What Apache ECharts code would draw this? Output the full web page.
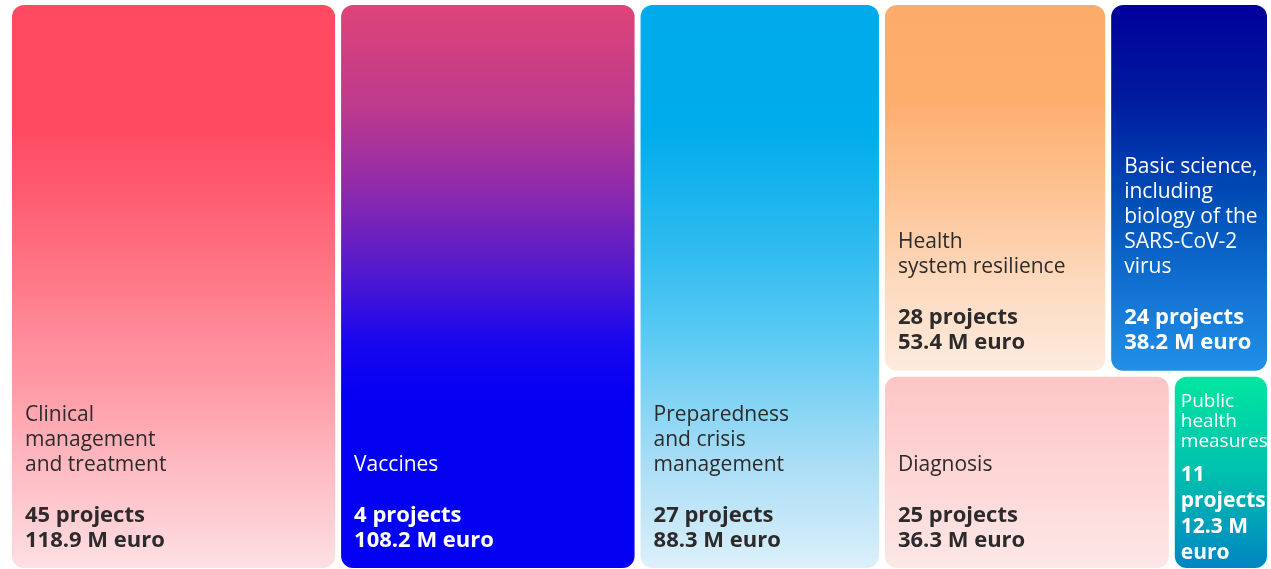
<!DOCTYPE html>
<html>
<head>
<meta charset="utf-8">
<script src="https://cdn.jsdelivr.net/npm/echarts@6/dist/echarts.min.js"></script>
<style>
  html, body { margin: 0; padding: 0; background: #fff; }
  #chart { width: 1271px; height: 569px; }
</style>
</head>
<body>
<div id="chart"></div>
<script>
// research areas, funding (M euro) and number of projects
const categories = [
  'Clinical\nmanagement\nand treatment',
  'Vaccines',
  'Preparedness\nand crisis\nmanagement',
  'Health\nsystem resilience',
  'Basic science,\nincluding\nbiology of the\nSARS-CoV-2\nvirus',
  'Diagnosis',
  'Public\nhealth\nmeasures'
];
const funding = [118.9, 108.2, 88.3, 53.4, 38.2, 36.3, 12.3];
const projects = [45, 4, 27, 28, 24, 25, 11];

// top -> bottom gradients of each tile
const gradients = [
  [[0, '#ff4a62'], [0.22, '#ff4a62'], [0.36, '#ff6074'], [0.68, '#ff9ca6'], [1, '#fde0e4']],
  [[0, '#de4478'], [0.18, '#bd3a8c'], [0.33, '#8e2aad'], [0.48, '#5018cf'], [0.6, '#1806ef'], [0.7, '#0400f2'], [1, '#0400f2']],
  [[0, '#00aaeb'], [0.22, '#00acec'], [0.45, '#33bcf0'], [0.6, '#5ecbf4'], [0.8, '#a5dcf5'], [1, '#dcf0fa']],
  [[0, '#fdab6a'], [0.25, '#fdad6c'], [0.5, '#fdc291'], [0.75, '#fdd9bd'], [1, '#fdebde']],
  [[0, '#00009a'], [0.25, '#001a9e'], [0.55, '#0050b8'], [0.8, '#1475d5'], [1, '#2090e6']],
  [[0, '#fec5c5'], [1, '#fde7e7']],
  [[0, '#00e6a0'], [0.5, '#00c0ae'], [1, '#0085c2']]
];
const lightText = [false, true, false, false, true, false, true];

const BORDER = 3;

function grad(stops) {
  return {
    type: 'linear', x: 0, y: 0, x2: 0, y2: 1,
    colorStops: stops.map(s => ({ offset: s[0], color: s[1] }))
  };
}

// text block height, used to push the label down to the bottom of its tile
function textHeight(i) {
  const nameLines = categories[i].split('\n').length;
  if (i === 6) return nameLines * 20 + 10 + 4 * 26;
  return (nameLines + 3) * 25;
}

function leaf(i, tileH) {
  const narrow = i === 6; // smallest tile, text wraps
  const col = lightText[i] ? '#ffffff' : '#2d2a2b';
  const nums = narrow
    ? projects[i] + '\nprojects\n' + funding[i] + ' M\neuro'
    : projects[i] + ' projects\n' + funding[i] + ' M euro';
  const padB = narrow ? 1 : 14;
  const padL = narrow ? 6 : 13;
  let padT = 0;
  if (tileH) padT = Math.max(0, Math.floor(tileH - 2 * BORDER - textHeight(i) - padB - 1));
  return {
    name: categories[i],
    value: funding[i],
    itemStyle: { color: grad(gradients[i]), borderWidth: BORDER, borderColor: '#fff', borderRadius: 12 },
    label: {
      color: col,
      lineHeight: narrow ? 10 : 25,
      padding: [padT, 0, padB, padL],
      formatter: '{nm|' + categories[i] + '}\n\n{num|' + nums + '}',
      rich: {
        nm: { color: col, fontFamily: 'Open Sans', fontSize: narrow ? 19 : 21, lineHeight: narrow ? 20 : 25 },
        num: { color: col, fontFamily: 'Open Sans', fontWeight: 'bold', fontSize: narrow ? 21 : 22, lineHeight: narrow ? 26 : 25 }
      }
    }
  };
}

function group(children) {
  return { name: '', children: children, itemStyle: { borderWidth: 0, gapWidth: 0, borderColor: '#fff' } };
}

function buildTree(heights) {
  const L = i => leaf(i, heights[i]);
  return [
    L(0), L(1), L(2),
    group([group([L(3), L(4)]), group([L(5), L(6)])])
  ];
}

const chart = echarts.init(document.getElementById('chart'));
const option = {
  animation: false,
  tooltip: { show: false },
  series: [{
    type: 'treemap',
    left: 9, top: 2, width: 1261, height: 569,
    roam: false,
    nodeClick: false,
    sort: false,
    squareRatio: 1,
    breadcrumb: { show: false },
    upperLabel: { show: false },
    label: {
      show: true,
      position: 'insideTopLeft',
      distance: 0,
      overflow: 'none',
      fontFamily: 'Open Sans'
    },
    itemStyle: { borderWidth: 0, gapWidth: 0, borderColor: '#fff' },
    data: buildTree([])
  }]
};
chart.setOption(option);

// second pass: read tile heights from the treemap layout
const data = chart.getModel().getSeriesByIndex(0).getData();
const heights = [];
for (let k = 0; k < data.count(); k++) {
  const idx = categories.indexOf(data.getName(k));
  const lay = data.getItemLayout(k);
  if (idx >= 0 && lay) heights[idx] = lay.height;
}
option.series[0].data = buildTree(heights);
chart.setOption(option, true);
</script>
</body>
</html>
